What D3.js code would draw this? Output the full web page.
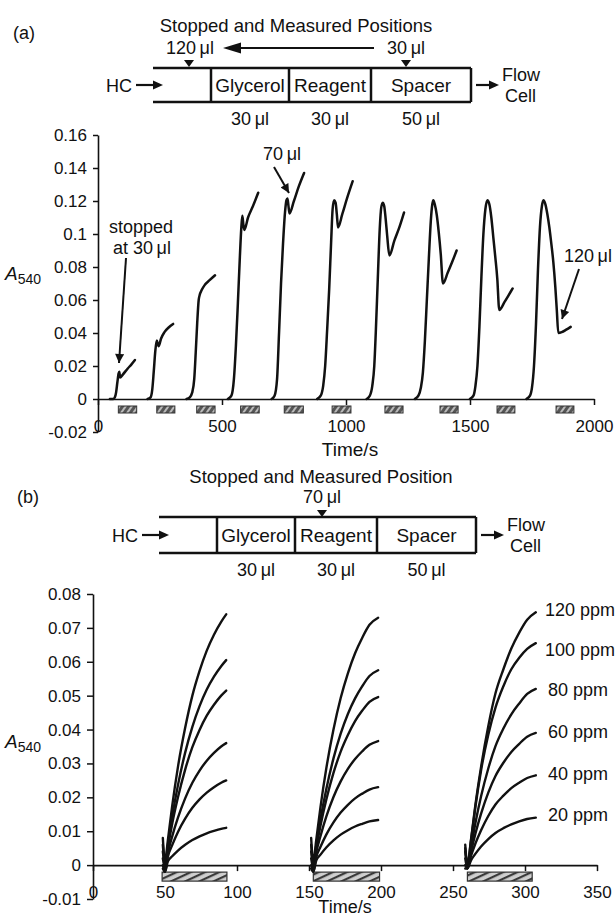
<!DOCTYPE html>
<html><head><meta charset="utf-8">
<script src="https://cdn.jsdelivr.net/npm/d3@7"></script>
<style>
html,body{margin:0;padding:0;background:#fff;}
svg{display:block;font-family:"Liberation Sans",Arial,Helvetica,sans-serif;}
</style></head><body>
<svg id="chart" width="615" height="918"></svg>
<script>
// ---------- Panel (a) data ----------
const aYTicks = [-0.02, 0, 0.02, 0.04, 0.06, 0.08, 0.1, 0.12, 0.14, 0.16];
const aYTickLabels = ["-0.02", "0", "0.02", "0.04", "0.06", "0.08", "0.1", "0.12", "0.14", "0.16"];
const aXTicks = [0, 500, 1000, 1500, 2000];
const aXTickLabels = ["0", "500", "1000", "1500", "2000"];
const aSegments = ["Glycerol", "Reagent", "Spacer"];
const aSegmentVolumes = ["30\u2009\u03bcl", "30\u2009\u03bcl", "50\u2009\u03bcl"];
// stopped/measured periods (s)
const aBars = [[82, 156], [237, 310], [398, 472], [575, 650], [751, 828], [944, 1020], [1157, 1230], [1379, 1452], [1609, 1681], [1847, 1919]];
// curves: [time s, A540]
const aCurve1 = [[48, 0], [62, 0], [68, 0.001], [73, 0.004], [78, 0.010], [83, 0.0155], [86, 0.0165], [89, 0.013], [100, 0.0148], [120, 0.0185], [135, 0.021], [149, 0.0236]];
const aCurve2 = [[200, 0], [212, 0.001], [219, 0.006], [225, 0.017], [231, 0.029], [237, 0.0355], [241, 0.0335], [245, 0.032], [254, 0.0365], [268, 0.0405], [286, 0.0435], [303, 0.0455]];
const aCurve3 = [[357, 0], [370, 0.001], [380, 0.004], [388, 0.012], [394, 0.028], [400, 0.046], [406, 0.060], [410, 0.063], [418, 0.066], [430, 0.069], [450, 0.072], [472, 0.075]];
const aCurve4 = [[524, 0], [538, 0.002], [548, 0.012], [556, 0.032], [564, 0.058], [572, 0.086], [578, 0.104], [582, 0.111], [586, 0.106], [590, 0.1025], [605, 0.110], [625, 0.117], [646, 0.125]];
const aCurve5 = [[700, 0], [712, 0.002], [722, 0.012], [730, 0.040], [738, 0.070], [746, 0.094], [754, 0.113], [760, 0.1205], [764, 0.1215], [768, 0.117], [772, 0.1125], [790, 0.120], [810, 0.129], [831, 0.137]];
const aCurve6 = [[884, 0], [898, 0.002], [908, 0.008], [916, 0.020], [924, 0.042], [932, 0.066], [940, 0.095], [946, 0.115], [952, 0.1205], [958, 0.119], [963, 0.112], [968, 0.104], [985, 0.112], [1005, 0.122], [1027, 0.132]];
const aCurve7 = [[1083, 0], [1096, 0.002], [1106, 0.008], [1114, 0.020], [1120, 0.040], [1128, 0.072], [1136, 0.103], [1142, 0.116], [1148, 0.119], [1154, 0.117], [1160, 0.109], [1166, 0.099], [1175, 0.087], [1195, 0.096], [1215, 0.104], [1234, 0.113]];
const aCurve8 = [[1278, 0], [1292, 0.002], [1302, 0.007], [1310, 0.016], [1318, 0.035], [1326, 0.060], [1334, 0.085], [1342, 0.108], [1348, 0.118], [1352, 0.1205], [1358, 0.118], [1366, 0.1115], [1374, 0.101], [1382, 0.088], [1391, 0.070], [1410, 0.0765], [1428, 0.083], [1446, 0.090]];
const aCurve9 = [[1500, 0], [1514, 0.002], [1522, 0.008], [1530, 0.020], [1538, 0.044], [1546, 0.074], [1554, 0.100], [1562, 0.115], [1570, 0.1205], [1578, 0.118], [1586, 0.110], [1594, 0.098], [1602, 0.086], [1610, 0.073], [1618, 0.054], [1640, 0.059], [1656, 0.063], [1672, 0.067]];
const aCurve10 = [[1728, 0], [1742, 0.002], [1750, 0.007], [1758, 0.020], [1766, 0.045], [1774, 0.078], [1782, 0.104], [1790, 0.117], [1796, 0.1205], [1804, 0.118], [1812, 0.112], [1820, 0.104], [1828, 0.094], [1836, 0.083], [1844, 0.068], [1850, 0.054], [1856, 0.040], [1870, 0.0405], [1888, 0.042], [1906, 0.0437]];

// ---------- Panel (b) data ----------
const bYTicks = [-0.01, 0, 0.01, 0.02, 0.03, 0.04, 0.05, 0.06, 0.07, 0.08];
const bYTickLabels = ["-0.01", "0", "0.01", "0.02", "0.03", "0.04", "0.05", "0.06", "0.07", "0.08"];
const bXTicks = [0, 50, 100, 150, 200, 250, 300, 350];
const bXTickLabels = ["0", "50", "100", "150", "200", "250", "300", "350"];
const bConcLabels = ["120 ppm", "100 ppm", "80 ppm", "60 ppm", "40 ppm", "20 ppm"];
const bBars = [[48, 93], [153, 199], [260, 305]];
const bRun1Time = [48.5, 50, 52, 55, 59, 64, 69, 74, 79, 84, 89, 92.5];
const bRun1 = [
  [0.008, 0.001, 0.0074, 0.0175, 0.0290, 0.0405, 0.0500, 0.0573, 0.0633, 0.0680, 0.0718, 0.0740],
  [0.006, 0.000, 0.0060, 0.0143, 0.0236, 0.0332, 0.0408, 0.0469, 0.0518, 0.0556, 0.0587, 0.0605],
  [0.004, 0.000, 0.0052, 0.0122, 0.0200, 0.0282, 0.0348, 0.0399, 0.0441, 0.0473, 0.0500, 0.0515],
  [0.002, -0.001, 0.0036, 0.0085, 0.0140, 0.0197, 0.0243, 0.0279, 0.0308, 0.0331, 0.0350, 0.0360],
  [0.000, -0.002, 0.0025, 0.0059, 0.0098, 0.0137, 0.0169, 0.0194, 0.0214, 0.0230, 0.0243, 0.0250],
  [-0.001, -0.002, 0.0011, 0.0026, 0.0043, 0.0060, 0.0074, 0.0085, 0.0094, 0.0101, 0.0107, 0.0110]
];
const bRun2Time = [151.5, 153, 155, 158, 162, 167, 172, 177, 182, 187, 192, 198];
const bRun2 = [
  [0.008, 0.001, 0.0073, 0.0172, 0.0285, 0.0400, 0.0493, 0.0566, 0.0625, 0.0671, 0.0709, 0.0730],
  [0.006, 0.000, 0.0058, 0.0136, 0.0224, 0.0315, 0.0388, 0.0446, 0.0492, 0.0528, 0.0558, 0.0575],
  [0.004, 0.000, 0.0050, 0.0117, 0.0193, 0.0272, 0.0335, 0.0384, 0.0425, 0.0456, 0.0482, 0.0496],
  [0.002, -0.001, 0.0037, 0.0086, 0.0143, 0.0201, 0.0247, 0.0284, 0.0313, 0.0336, 0.0355, 0.0366],
  [0.000, -0.002, 0.0023, 0.0054, 0.0090, 0.0126, 0.0155, 0.0178, 0.0197, 0.0211, 0.0223, 0.0230],
  [-0.001, -0.002, 0.0013, 0.0031, 0.0052, 0.0073, 0.0090, 0.0103, 0.0114, 0.0122, 0.0129, 0.0133]
];
const bRun3Time = [258.5, 260, 262.5, 265.5, 269.5, 274.5, 279.5, 285, 290.5, 296, 301.5, 307.5];
const bRun3 = [
  [0.006, 0.000, 0.0075, 0.0176, 0.0290, 0.0410, 0.0507, 0.0578, 0.0639, 0.0686, 0.0724, 0.0746],
  [0.005, 0.000, 0.0072, 0.0170, 0.0280, 0.0385, 0.0465, 0.0528, 0.0578, 0.0612, 0.0638, 0.0655],
  [0.004, 0.000, 0.0052, 0.0123, 0.0203, 0.0285, 0.0351, 0.0403, 0.0445, 0.0477, 0.0505, 0.0520],
  [0.002, -0.001, 0.0039, 0.0092, 0.0152, 0.0214, 0.0263, 0.0302, 0.0334, 0.0358, 0.0379, 0.0390],
  [0.000, -0.001, 0.0027, 0.0063, 0.0103, 0.0145, 0.0179, 0.0205, 0.0227, 0.0243, 0.0257, 0.0265],
  [-0.001, -0.001, 0.0014, 0.0033, 0.0055, 0.0077, 0.0095, 0.0109, 0.0120, 0.0129, 0.0136, 0.0140]
];

// ---------- Drawing ----------
const svg = d3.select("#chart");
const defs = svg.append("defs");
defs.append("marker").attr("id", "arr").attr("viewBox", "0 0 10 10")
  .attr("refX", 10).attr("refY", 5).attr("markerWidth", 12).attr("markerHeight", 9)
  .attr("markerUnits", "userSpaceOnUse").attr("orient", "auto")
  .append("path").attr("d", "M0,0L10,5L0,10z").attr("fill", "#111");
const pa = defs.append("pattern").attr("id", "hatchA").attr("patternUnits", "userSpaceOnUse")
  .attr("width", 5).attr("height", 5).attr("patternTransform", "rotate(35)");
pa.append("rect").attr("width", 5).attr("height", 5).attr("fill", "#555");
pa.append("rect").attr("width", 2).attr("height", 5).attr("fill", "#bbb");
const pb = defs.append("pattern").attr("id", "hatchB").attr("patternUnits", "userSpaceOnUse")
  .attr("width", 6).attr("height", 6).attr("patternTransform", "rotate(65)");
pb.append("rect").attr("width", 6).attr("height", 6).attr("fill", "#cfcfcf");
pb.append("rect").attr("width", 2.2).attr("height", 6).attr("fill", "#3a3a3a");

const ink = "#111";

function txt(g, x, y, s, size, anchor) {
  return g.append("text").attr("x", x).attr("y", y).attr("font-size", size)
    .attr("text-anchor", anchor || "start").attr("fill", ink).text(s);
}
function arrowRight(g, x1, x2, y) {
  g.append("line").attr("x1", x1).attr("x2", x2 - 8).attr("y1", y).attr("y2", y)
    .attr("stroke", ink).attr("stroke-width", 2.2);
  g.append("path").attr("d", `M${x2},${y}L${x2 - 10},${y - 4.5}L${x2 - 10},${y + 4.5}Z`).attr("fill", ink);
}
function tri(g, x, yTop) {
  g.append("path").attr("d", `M${x - 5},${yTop}L${x + 5},${yTop}L${x},${yTop + 7}Z`).attr("fill", ink);
}

// Diagram helper
function diagram(o) {
  const g = svg.append("g");
  txt(g, o.labelX, o.labelY, o.label, 18);
  txt(g, o.titleX, o.titleY, o.title, 18.5, "middle");
  g.append("line").attr("x1", o.left).attr("x2", o.right).attr("y1", o.top).attr("y2", o.top).attr("stroke", ink).attr("stroke-width", 2.5);
  g.append("line").attr("x1", o.left).attr("x2", o.right).attr("y1", o.bottom).attr("y2", o.bottom).attr("stroke", ink).attr("stroke-width", 2.5);
  o.dividers.concat([o.right]).forEach(x => g.append("line").attr("x1", x).attr("x2", x)
    .attr("y1", o.top).attr("y2", o.bottom).attr("stroke", ink).attr("stroke-width", 2.5));
  const cy = (o.top + o.bottom) / 2 + 7;
  const edges = o.dividers.concat([o.right]);
  aSegments.forEach((s, i) => {
    const cx = (edges[i] + edges[i + 1]) / 2;
    txt(g, cx, cy, s, 19, "middle");
    txt(g, cx, o.bottom + 23, aSegmentVolumes[i], 18, "middle");
  });
  txt(g, o.hcX, cy, "HC", 18);
  arrowRight(g, o.hcX + 30, o.hcX + 57, cy - 7);
  arrowRight(g, o.right + 5, o.right + 28, cy - 7);
  txt(g, o.right + 31, cy - 11, "Flow", 18);
  txt(g, o.right + 34, cy + 10, "Cell", 18);
  return g;
}

// ----- Panel (a) diagram -----
const gA = diagram({ label: "(a)", labelX: 13, labelY: 39, title: "Stopped and Measured Positions",
  titleX: 296, titleY: 32, left: 153, right: 471, top: 68, bottom: 102, dividers: [211, 289, 371], hcX: 106 });
txt(gA, 190, 54, "120\u2009\u03bcl", 18, "middle");
txt(gA, 406, 54, "30\u2009\u03bcl", 18, "middle");
tri(gA, 189, 60); tri(gA, 406, 60);
gA.append("line").attr("x1", 374).attr("x2", 236).attr("y1", 48).attr("y2", 48).attr("stroke", ink).attr("stroke-width", 2.2);
gA.append("path").attr("d", "M223,48L241,42.5L241,53.5Z").attr("fill", ink);

// ----- Panel (a) plot -----
const xA = d3.scaleLinear().domain([0, 2000]).range([98, 594]);
const yA = d3.scaleLinear().domain([-0.02, 0.16]).range([432, 135]);
const plotA = svg.append("g");
const yAxA = plotA.append("g").attr("transform", `translate(${xA(0)},0)`)
  .call(d3.axisLeft(yA).tickValues(aYTicks).tickFormat((d, i) => aYTickLabels[i]).tickSize(5).tickSizeOuter(0).tickPadding(6));
const xAxA = plotA.append("g").attr("transform", `translate(0,${yA(0)})`)
  .call(d3.axisBottom(xA).tickValues(aXTicks).tickFormat((d, i) => aXTickLabels[i]).tickSize(6).tickSizeOuter(0));
[yAxA, xAxA].forEach(ax => {
  ax.select(".domain").attr("stroke", ink).attr("stroke-width", 1.6);
  ax.selectAll(".tick line").attr("stroke", ink).attr("stroke-width", 1.5);
  ax.selectAll("text").attr("font-size", 17).attr("fill", ink).attr("font-family", "Liberation Sans, Arial, sans-serif");
});
xAxA.selectAll("text").attr("y", 33).attr("dy", 0);
txt(plotA, 350, 456, "Time/s", 19, "middle");
const aLab = plotA.append("text").attr("x", 5).attr("y", 280).attr("fill", ink);
aLab.append("tspan").attr("font-style", "italic").attr("font-size", 19).text("A");
aLab.append("tspan").attr("font-size", 14).attr("dy", 4).text("540");

plotA.selectAll("rect.barA").data(aBars).join("rect").attr("class", "barA")
  .attr("x", d => xA(d[0])).attr("width", d => xA(d[1]) - xA(d[0]))
  .attr("y", yA(0) + 7).attr("height", 7)
  .attr("fill", "url(#hatchA)").attr("stroke", "#333").attr("stroke-width", 1);

const lineA = d3.line().x(d => xA(d[0])).y(d => yA(d[1])).curve(d3.curveMonotoneX);
const aCurves = [aCurve1, aCurve2, aCurve3, aCurve4, aCurve5, aCurve6, aCurve7, aCurve8, aCurve9, aCurve10];
plotA.selectAll("path.curveA").data(aCurves).join("path").attr("class", "curveA")
  .attr("d", lineA).attr("fill", "none").attr("stroke", ink).attr("stroke-width", 2.5)
  .attr("stroke-linejoin", "round").attr("stroke-linecap", "round");

// annotations (a)
txt(plotA, 141, 233, "stopped", 18, "middle");
txt(plotA, 142, 254, "at 30\u2009\u03bcl", 18, "middle");
plotA.append("line").attr("x1", 126).attr("y1", 258).attr("x2", 119).attr("y2", 363)
  .attr("stroke", ink).attr("stroke-width", 2).attr("marker-end", "url(#arr)");
txt(plotA, 282, 160, "70\u2009\u03bcl", 18, "middle");
plotA.append("line").attr("x1", 274).attr("y1", 167).attr("x2", 289).attr("y2", 193)
  .attr("stroke", ink).attr("stroke-width", 2).attr("marker-end", "url(#arr)");
txt(plotA, 588, 262, "120\u2009\u03bcl", 18, "middle");
plotA.append("line").attr("x1", 579).attr("y1", 269).attr("x2", 562).attr("y2", 319)
  .attr("stroke", ink).attr("stroke-width", 2).attr("marker-end", "url(#arr)");

// ----- Panel (b) diagram -----
const gB = diagram({ label: "(b)", labelX: 17, labelY: 503, title: "Stopped and Measured Position",
  titleX: 321, titleY: 483, left: 159, right: 476, top: 517, bottom: 553, dividers: [217, 295, 377], hcX: 112 });
txt(gB, 322, 503, "70\u2009\u03bcl", 18, "middle");
tri(gB, 322, 510);

// ----- Panel (b) plot -----
const xB = d3.scaleLinear().domain([0, 350]).range([93, 597]);
const yB = d3.scaleLinear().domain([-0.01, 0.08]).range([899, 594]);
const plotB = svg.append("g");
const yAxB = plotB.append("g").attr("transform", `translate(${xB(0)},0)`)
  .call(d3.axisLeft(yB).tickValues(bYTicks).tickFormat((d, i) => bYTickLabels[i]).tickSize(6).tickSizeOuter(0).tickPadding(6));
const xAxB = plotB.append("g").attr("transform", `translate(0,${yB(0)})`)
  .call(d3.axisBottom(xB).tickValues(bXTicks).tickFormat((d, i) => bXTickLabels[i]).tickSize(6).tickSizeOuter(0));
[yAxB, xAxB].forEach(ax => {
  ax.select(".domain").attr("stroke", ink).attr("stroke-width", 1.6);
  ax.selectAll(".tick line").attr("stroke", ink).attr("stroke-width", 1.5);
  ax.selectAll("text").attr("font-size", 17).attr("fill", ink).attr("font-family", "Liberation Sans, Arial, sans-serif");
});
xAxB.selectAll("text").attr("y", 33).attr("dy", 0);
txt(plotB, 345, 913, "Time/s", 18, "middle");
const bLab = plotB.append("text").attr("x", 5).attr("y", 748).attr("fill", ink);
bLab.append("tspan").attr("font-style", "italic").attr("font-size", 19).text("A");
bLab.append("tspan").attr("font-size", 14).attr("dy", 4).text("540");

plotB.selectAll("rect.barB").data(bBars).join("rect").attr("class", "barB")
  .attr("x", d => xB(d[0])).attr("width", d => xB(d[1]) - xB(d[0]))
  .attr("y", yB(0) + 7).attr("height", 9)
  .attr("fill", "url(#hatchB)").attr("stroke", "#333").attr("stroke-width", 1.2);

const lineB = d3.line().x(d => xB(d[0])).y(d => yB(d[1])).curve(d3.curveMonotoneX);
const runs = [[bRun1Time, bRun1], [bRun2Time, bRun2], [bRun3Time, bRun3]];
runs.forEach(([times, vals]) => {
  vals.forEach(series => {
    plotB.append("path").datum(series.map((v, i) => [times[i], v]))
      .attr("d", lineB).attr("fill", "none").attr("stroke", ink).attr("stroke-width", 2.4)
      .attr("stroke-linejoin", "round").attr("stroke-linecap", "round");
  });
});
// concentration labels beside the last run
const labelYs = [0.0755, 0.0635, 0.0518, 0.0394, 0.0270, 0.0148];
bConcLabels.forEach((s, i) => {
  txt(plotB, i < 2 ? 545 : 548, yB(labelYs[i]) + 6.5, s, 18);
});
</script>
</body></html>
